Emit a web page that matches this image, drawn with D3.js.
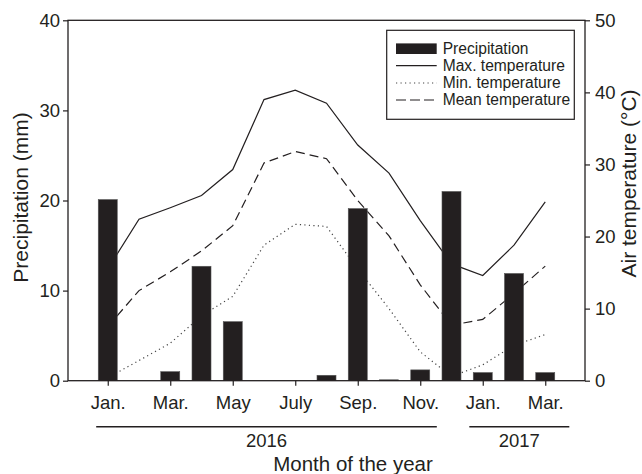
<!DOCTYPE html>
<html>
<head>
<meta charset="utf-8">
<script src="https://cdn.jsdelivr.net/npm/d3@7/dist/d3.min.js"></script>
<style>
  html, body { margin: 0; padding: 0; background: #fff; }
  svg { display: block; font-family: "Liberation Sans", Arial, Helvetica, sans-serif; }
</style>
</head>
<body>
<svg id="chart" width="642" height="474"></svg>
<script>
// ---- data ----
const categories = ["2016-01","2016-02","2016-03","2016-04","2016-05","2016-06","2016-07","2016-08","2016-09","2016-10","2016-11","2016-12","2017-01","2017-02","2017-03"];
const tickLabels = ["Jan.","","Mar.","","May","","July","","Sep.","","Nov.","","Jan.","","Mar."];
const precipitation = [20.1, 0, 1.0, 12.7, 6.55, 0, 0, 0.6, 19.1, 0.1, 1.2, 21.0, 0.9, 11.9, 0.9];
const maxTemp  = [15.5, 22.4, 24.0, 25.7, 29.3, 39.0, 40.3, 38.5, 32.7, 28.8, 22.2, 16.2, 14.6, 18.8, 24.8];
const meanTemp = [7.5, 12.5, 15.1, 18.0, 21.5, 30.2, 31.8, 30.8, 25.0, 20.1, 13.3, 7.7, 8.5, 12.1, 15.9];
const minTemp  = [0.4, 2.8, 5.2, 9.0, 11.7, 18.8, 21.7, 21.4, 15.5, 10.0, 4.0, 0.6, 2.2, 4.9, 6.4];
const precipTicks = [0, 10, 20, 30, 40];
const tempTicks = [0, 10, 20, 30, 40, 50];
const years = ["2016", "2017"];
const yearSpans = [[-0.37, 10.53], [11.57, 14.77]]; // in month-index units
const legendLabels = ["Precipitation", "Max. temperature", "Min. temperature", "Mean temperature"];

// ---- layout ----
const L = 68, R = 585, T = 20.3, B = 380.7;
const svg = d3.select("#chart");
const ink = "#231f20";

const x = d3.scalePoint().domain(categories).range([L, R]).padding(1.272);
const step = x.step();
const xi = i => x(categories[0]) + i * step;
const yP = d3.scaleLinear().domain([0, 40]).range([B, T]);
const yT = d3.scaleLinear().domain([0, 50]).range([B, T]);

// lines (drawn under bars)
const line = arr => d3.line().x((d, i) => x(categories[i])).y(d => yT(d))(arr);
svg.append("path").attr("d", line(maxTemp)).attr("fill", "none").attr("stroke", ink).attr("stroke-width", 1.2);
svg.append("path").attr("d", line(meanTemp)).attr("fill", "none").attr("stroke", ink).attr("stroke-width", 1.2).attr("stroke-dasharray", "9,5");
svg.append("path").attr("d", line(minTemp)).attr("fill", "none").attr("stroke", "#444").attr("stroke-width", 1.2).attr("stroke-dasharray", "1.2,3.3");

// bars
const bw = 19;
svg.selectAll("rect.bar").data(precipitation).enter().append("rect")
  .attr("class", "bar")
  .attr("x", (d, i) => x(categories[i]) - bw / 2)
  .attr("y", d => yP(d))
  .attr("width", bw)
  .attr("height", d => B - yP(d))
  .attr("fill", ink)
  .attr("stroke", "#555").attr("stroke-width", 0.6);

// frame
svg.append("rect").attr("x", L).attr("y", T).attr("width", R - L).attr("height", B - T)
  .attr("fill", "none").attr("stroke", ink).attr("stroke-width", 1.3);

// axes
const fs = 18.5;
const leftAxis = d3.axisLeft(yP).tickValues(precipTicks).tickSize(5).tickPadding(3);
const gl = svg.append("g").attr("transform", `translate(${L},0)`).call(leftAxis);
const rightAxis = d3.axisRight(yT).tickValues(tempTicks).tickSize(5).tickPadding(5);
const gr = svg.append("g").attr("transform", `translate(${R},0)`).call(rightAxis);
const bottomAxis = d3.axisBottom(x).tickValues(categories.filter((c, i) => tickLabels[i] !== ""))
  .tickFormat(c => tickLabels[categories.indexOf(c)]).tickSize(5).tickPadding(10);
const gb = svg.append("g").attr("transform", `translate(0,${B})`).call(bottomAxis);
[gl, gr, gb].forEach(g => {
  g.select(".domain").remove();
  g.selectAll("line").attr("stroke", ink).attr("stroke-width", 1.2);
  g.selectAll("text").attr("font-size", fs).attr("fill", ink).attr("font-family", "Liberation Sans, Arial, sans-serif");
});

// year lines and labels
years.forEach((yr, k) => {
  const [a, b] = yearSpans[k];
  svg.append("line").attr("x1", xi(a)).attr("x2", xi(b)).attr("y1", 426.7).attr("y2", 426.7)
    .attr("stroke", ink).attr("stroke-width", 1.6);
  svg.append("text").attr("x", (xi(a) + xi(b)) / 2).attr("y", 447).attr("text-anchor", "middle")
    .attr("font-size", fs).attr("fill", ink).text(yr);
});

// axis titles
svg.append("text").attr("x", 353).attr("y", 471).attr("text-anchor", "middle")
  .attr("font-size", 20.5).attr("fill", ink).text("Month of the year");
svg.append("text").attr("transform", `translate(28,${(T + B) / 2 - 3}) rotate(-90)`).attr("text-anchor", "middle")
  .attr("font-size", 21).attr("fill", ink).text("Precipitation (mm)");
svg.append("text").attr("transform", `translate(636,${(T + B) / 2 - 17}) rotate(-90)`).attr("text-anchor", "middle")
  .attr("font-size", 21).attr("fill", ink).text("Air temperature (°C)");

// legend
const lg = svg.append("g");
lg.append("rect").attr("x", 386.7).attr("y", 30.3).attr("width", 187.6).attr("height", 89)
  .attr("fill", "#fff").attr("stroke", ink).attr("stroke-width", 1.2);
const rowY = [48.7, 65.7, 83, 100];
const sx1 = 396, sx2 = 436.7;
lg.append("rect").attr("x", sx1).attr("y", rowY[0] - 5.3).attr("width", sx2 - sx1).attr("height", 10.6).attr("fill", ink);
lg.append("line").attr("x1", sx1).attr("x2", sx2).attr("y1", rowY[1]).attr("y2", rowY[1]).attr("stroke", ink).attr("stroke-width", 1.2);
lg.append("line").attr("x1", sx1).attr("x2", sx2).attr("y1", rowY[2]).attr("y2", rowY[2]).attr("stroke", "#444").attr("stroke-width", 1.2).attr("stroke-dasharray", "1.2,3.3");
lg.append("line").attr("x1", sx1).attr("x2", sx2).attr("y1", rowY[3]).attr("y2", rowY[3]).attr("stroke", ink).attr("stroke-width", 1.2).attr("stroke-dasharray", "10,4");
legendLabels.forEach((t, k) => {
  lg.append("text").attr("x", 442.7).attr("y", rowY[k]).attr("dy", "0.35em")
    .attr("font-size", 15.6).attr("fill", ink).text(t);
});
</script>
</body>
</html>
